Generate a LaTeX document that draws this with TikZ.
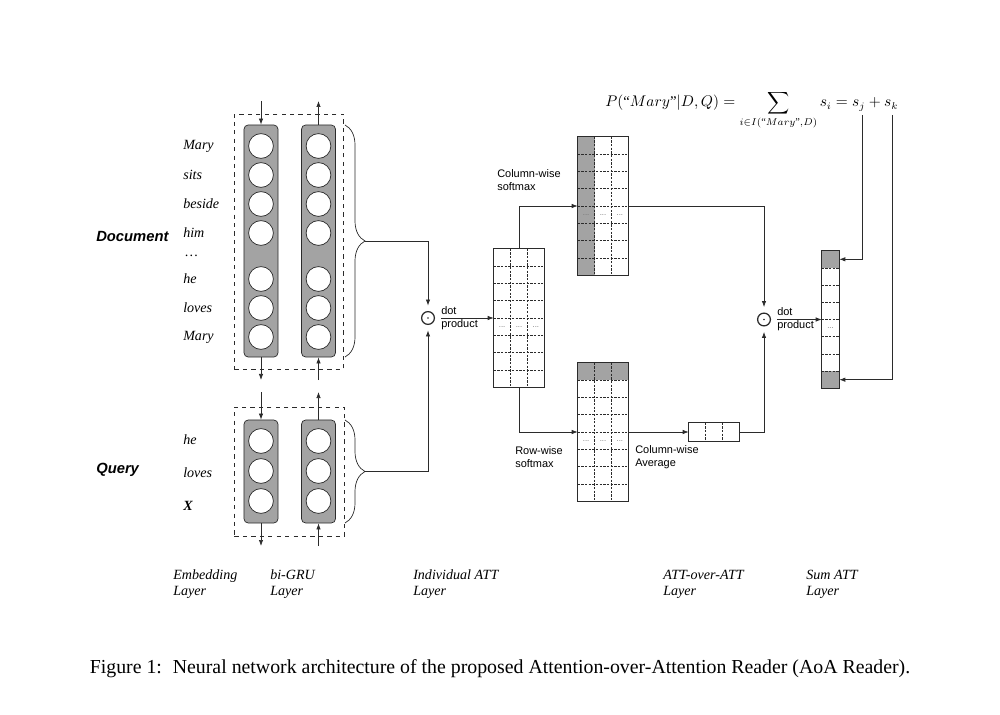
\documentclass[tikz,border=0pt]{standalone}
\usepackage{amsmath}
\usepackage{fontspec}
\setmainfont{Liberation Serif}
\setsansfont{Liberation Sans}
\usetikzlibrary{positioning,arrows.meta,decorations.pathreplacing,calc}
\definecolor{ink}{HTML}{2B2B2B}
\definecolor{cellgray}{HTML}{A3A3A3}
\tikzset{
unit/.style={
draw=ink,
circle,
fill=white,
minimum size=0.62cm,
inner sep=0pt,
line width=0.5pt
},
gru/.style={
draw=ink,
rounded corners=3pt,
fill=cellgray,
minimum width=0.85cm,
line width=0.5pt
},
frame/.style={
draw=ink,
dashed,
line width=0.5pt
},
mat/.style={
fill=white,
inner sep=0pt,
minimum width=1.25cm,
minimum height=3.45cm
},
cellline/.style={
draw=ink,
dash pattern=on 1.6pt off 1pt,
line width=0.45pt
},
celldots/.style={
inner sep=0pt,
text=black!55,
font=\sffamily\fontsize{5.5}{6}\selectfont
},
odot/.style={
circle,
draw=ink,
line width=0.9pt,
minimum size=0.32cm,
inner sep=0pt,
outer sep=1.5mm,
path picture={\fill[ink] (path picture bounding box.center) circle (0.65pt);}
},
word/.style={
anchor=west,
inner sep=0pt,
font=\fontsize{10}{12}\selectfont\itshape
},
side/.style={
anchor=west,
inner sep=0pt,
font=\sffamily\bfseries\itshape\fontsize{10.5}{12}\selectfont
},
note/.style={
anchor=west,
align=left,
inner sep=0pt,
font=\sffamily\fontsize{7.8}{9.3}\selectfont
},
layername/.style={
anchor=west,
align=left,
inner sep=0pt,
font=\fontsize{10}{11.4}\selectfont\itshape
},
brace/.style={
decorate,
decoration={brace,amplitude=0.5cm},
draw=ink,
line width=0.5pt
},
arrow/.style={
-{Latex[length=1.5mm,width=1.1mm]},
draw=ink,
line width=0.5pt
}
}
% grid lines of an attention matrix: node, columns, rows
\newcommand{\attcells}[3]{%
\foreach \r in {1,...,#3}{\ifnum\r<#3
\draw[cellline] ($(#1.north west)!\r/#3!(#1.south west)$) -- ($(#1.north east)!\r/#3!(#1.south east)$);\fi}
\foreach \c in {1,...,#2}{\ifnum\c<#2
\draw[cellline] ($(#1.north west)!\c/#2!(#1.north east)$) -- ($(#1.south west)!\c/#2!(#1.south east)$);\fi}
\draw[ink,line width=0.5pt] (#1.north west) rectangle (#1.south east);
}
% dots in the fifth row
\newcommand{\attdots}[3]{%
\coordinate (#1dy) at ($(#1.north west)!4.5/#3!(#1.south west)$);
\foreach \c in {1,...,#2}{
\coordinate (#1dx\c) at ($(#1.north west)!{(\c-0.5)/#2}!(#1.north east)$);
\node[celldots] (#1dot\c) at (#1dx\c |- #1dy) {...};}
}

\begin{document}
\begin{tikzpicture}[x=0.025cm,y=-0.025cm]
\useasboundingbox (0,0) rectangle (1000,715);

% document encoder
\node[frame,minimum width=2.725cm,minimum height=6.375cm] (docbox) at (289,241.5) {};
\node[gru,minimum height=5.8cm] (dl) at (261,241) {};
\node[gru,minimum height=5.8cm] (dr) at (318.5,241) {};
\foreach \n/\y/\w in {1/146/Mary,2/175/sits,3/204/beside,4/233/him,5/279/he,6/308/loves,7/337/Mary}{
\node[unit] (dl\n) at (261,\y) {};
\node[unit] (dr\n) at (318.5,\y) {};
\node[word] (dw\n) at (183,\y) {\w};
}
\node[word] (dwdots) at (185,256) {…};
\node[side] (doclabel) at (96,236) {Document};

\coordinate (dlin) at (261,101);
\coordinate (drout) at (318.5,101);
\coordinate (dlout) at (261,380);
\coordinate (drin) at (318.5,380);
\draw[arrow] (dlin) -- (dl.north);
\draw[arrow] (dr.north) -- (drout);
\draw[arrow] (dl.south) -- (dlout);
\draw[arrow] (drin) -- (dr.south);

% query encoder
\node[frame,minimum width=2.75cm,minimum height=3.225cm] (qbox) at (289.5,471.5) {};
\node[gru,minimum height=2.575cm] (ql) at (261,471.5) {};
\node[gru,minimum height=2.575cm] (qr) at (318.5,471.5) {};
\foreach \n/\y in {1/441,2/471,3/501}{
\node[unit] (ql\n) at (261,\y) {};
\node[unit] (qr\n) at (318.5,\y) {};
}
\node[word] (qw1) at (183,440) {he};
\node[word] (qw2) at (183,473) {loves};
\node[word,font=\fontsize{10}{12}\selectfont\bfseries\itshape] (qw3) at (183,506) {X};
\node[side] (querylabel) at (96,470) {Query};

\coordinate (qlin) at (261,392);
\coordinate (qrout) at (318.5,392);
\coordinate (qlout) at (261,546);
\coordinate (qrin) at (318.5,546);
\draw[arrow] (qlin) -- (ql.north);
\draw[arrow] (qr.north) -- (qrout);
\draw[arrow] (ql.south) -- (qlout);
\draw[arrow] (qrin) -- (qr.south);

% braces
\draw[brace] (345,125) -- (345,357) coordinate[pos=0.5] (dmid);
\draw[brace] (345,420) -- (345,523) coordinate[pos=0.5] (qmid);
\coordinate (docb) at ($(dmid)+(20,0)$);
\coordinate (qb) at ($(qmid)+(20,0)$);

% individual attention
\node[odot] (dot1) at (428,318) {};
\draw[arrow] (docb) -| (dot1.north);
\draw[arrow] (qb) -| (dot1.south);
\node[note] (dp1) at (441,318) {dot\\product};

\node[mat] (M) at (519,318) {};
\attcells{M}{3}{8}
\attdots{M}{3}{8}
\draw[arrow] (dp1.west) -- (M.west);

% column-wise softmax
\node[mat] (T) at (603,206) {};
\fill[cellgray] (T.north west) rectangle ($(T.south west)!1/3!(T.south east)$);
\attcells{T}{3}{8}
\attdots{T}{3}{8}
\node[note] (colsoft) at (497,180) {Column-wise\\softmax};
\draw[arrow] (M.north) |- (T.west);

% row-wise softmax
\node[mat] (B) at (603,432) {};
\fill[cellgray] (B.north west) rectangle ($(B.north east)!1/8!(B.south east)$);
\attcells{B}{3}{8}
\attdots{B}{3}{8}
\node[note] (rowsoft) at (515,457.5) {Row-wise\\softmax};
\draw[arrow] (M.south) |- (B.west);

% column-wise average
\node[mat,minimum width=1.25cm,minimum height=0.45cm] (V) at (714,432) {};
\attcells{V}{3}{1}
\node[note] (colavg) at (635,457.5) {Column-wise\\Average};
\draw[arrow] (B.east) -- (V.west);

% attention over attention
\node[odot] (dot2) at (764,319.5) {};
\draw[arrow] (T.east) -| (dot2.north);
\draw[arrow] (V.east) -| (dot2.south);
\node[note] (dp2) at (777,319.5) {dot\\product};

\node[mat,minimum width=0.425cm,minimum height=3.425cm] (S) at (830.5,319.5) {};
\fill[cellgray] (S.north west) rectangle ($(S.north east)!1/8!(S.south east)$);
\fill[cellgray] ($(S.north west)!7/8!(S.south west)$) rectangle (S.south east);
\attcells{S}{1}{8}
\attdots{S}{1}{8}
\draw[arrow] (dp2.west) -- (S.west);

% sum attention
\node[anchor=base west,inner sep=0pt,font=\fontsize{10.5}{13}\selectfont] (prob) at (605,107)
{$\displaystyle P(\text{“}Mary\text{”}|D,Q)=\sum_{i\in I(\text{“}Mary\text{”},D)} s_i=s_j+s_k$};
\coordinate (sj) at (862,115);
\coordinate (sk) at (892,115);
\coordinate (Stop) at ($(S.north east)!1/16!(S.south east)$);
\coordinate (Sbot) at ($(S.north east)!15/16!(S.south east)$);
\draw[arrow] (sj) |- (Stop);
\draw[arrow] (sk) |- (Sbot);

% layer names
\node[layername] (lemb) at (173,584) {Embedding\\Layer};
\node[layername] (lgru) at (270,584) {bi-GRU\\Layer};
\node[layername] (lind) at (413,584) {Individual ATT\\Layer};
\node[layername] (laoa) at (663,584) {ATT-over-ATT\\Layer};
\node[layername] (lsum) at (806,584) {Sum ATT\\Layer};

\node[font=\fontsize{14.1}{16}\selectfont,inner sep=0pt] (caption) at (500,669)
{Figure 1:\hspace{0.55em}Neural network architecture of the proposed Attention-over-Attention Reader (AoA Reader).};
\end{tikzpicture}
\end{document}
